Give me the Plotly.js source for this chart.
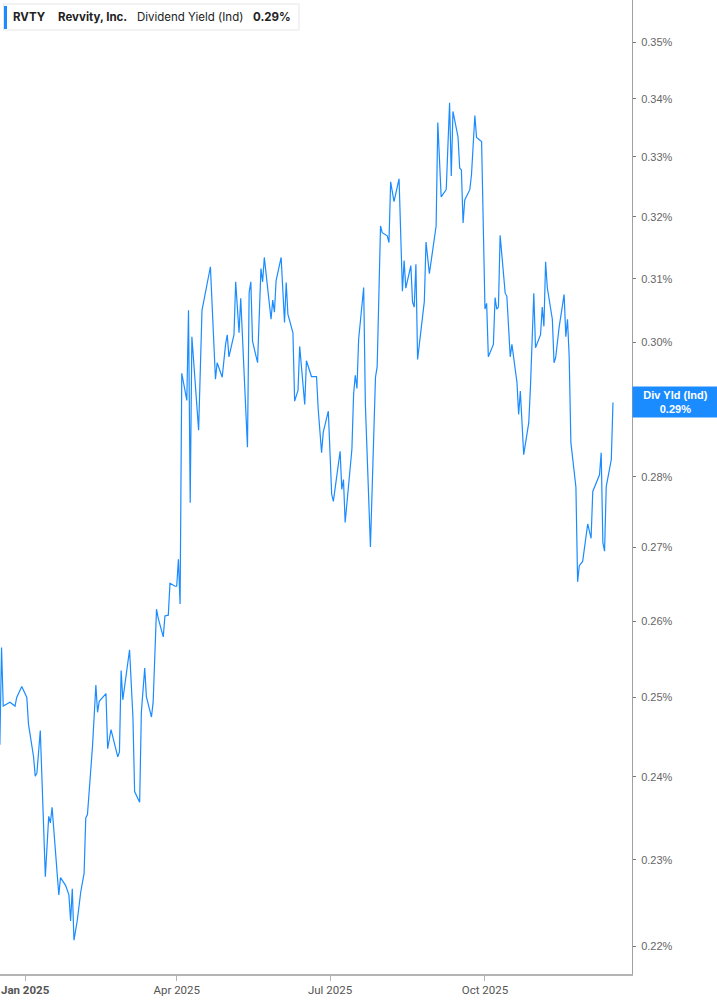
<!DOCTYPE html>
<html>
<head>
<meta charset="utf-8">
<script src="https://cdn.plot.ly/plotly-3.0.1.min.js"></script>
<style>
  html, body { margin: 0; padding: 0; background: #fff; }
  #chart { width: 717px; height: 1005px; }
</style>
</head>
<body>
<div id="chart"></div>
<script>
// Daily dividend yield (Ind) for RVTY, in percent
var dates = [
    '2024-12-17','2024-12-18','2024-12-19','2024-12-23','2024-12-26','2024-12-27','2024-12-30',
    '2025-01-02','2025-01-03','2025-01-06','2025-01-07','2025-01-08','2025-01-10','2025-01-13',
    '2025-01-15','2025-01-16','2025-01-17','2025-01-19','2025-01-21','2025-01-22','2025-01-25',
    '2025-01-27','2025-01-28','2025-01-29','2025-01-30','2025-02-01','2025-02-03','2025-02-05',
    '2025-02-06','2025-02-07','2025-02-10','2025-02-12','2025-02-13','2025-02-14','2025-02-18',
    '2025-02-19','2025-02-21','2025-02-25','2025-02-26','2025-02-27','2025-02-28','2025-03-04',
    '2025-03-05','2025-03-06','2025-03-07','2025-03-10','2025-03-11','2025-03-13','2025-03-14',
    '2025-03-17','2025-03-18','2025-03-20','2025-03-21','2025-03-24','2025-03-25','2025-03-27',
    '2025-03-28','2025-03-31','2025-04-01','2025-04-02','2025-04-03','2025-04-04','2025-04-07',
    '2025-04-08','2025-04-09','2025-04-10','2025-04-14','2025-04-16','2025-04-21','2025-04-24',
    '2025-04-25','2025-04-28','2025-04-30','2025-05-01','2025-05-02','2025-05-05','2025-05-06',
    '2025-05-08','2025-05-09','2025-05-12','2025-05-13','2025-05-14','2025-05-15','2025-05-16',
    '2025-05-19','2025-05-21','2025-05-22','2025-05-23','2025-05-27','2025-05-28','2025-05-29',
    '2025-05-30','2025-06-02','2025-06-04','2025-06-05','2025-06-06','2025-06-09','2025-06-10',
    '2025-06-12','2025-06-13','2025-06-16','2025-06-17','2025-06-20','2025-06-23','2025-06-24',
    '2025-06-26','2025-06-27','2025-06-30','2025-07-02','2025-07-03','2025-07-07','2025-07-08',
    '2025-07-09','2025-07-10','2025-07-14','2025-07-15','2025-07-16','2025-07-17','2025-07-18',
    '2025-07-21','2025-07-22','2025-07-25','2025-07-28','2025-07-29','2025-07-31','2025-08-01',
    '2025-08-04','2025-08-05','2025-08-06','2025-08-08','2025-08-11','2025-08-13','2025-08-14',
    '2025-08-15','2025-08-18','2025-08-19','2025-08-20','2025-08-21','2025-08-22','2025-08-26',
    '2025-08-27','2025-08-29','2025-09-02','2025-09-03','2025-09-05','2025-09-08','2025-09-10',
    '2025-09-11','2025-09-12','2025-09-15','2025-09-16','2025-09-17','2025-09-18','2025-09-19',
    '2025-09-22','2025-09-23','2025-09-25','2025-09-26','2025-09-29','2025-10-01','2025-10-02',
    '2025-10-03','2025-10-06','2025-10-07','2025-10-08','2025-10-09','2025-10-10','2025-10-13',
    '2025-10-14','2025-10-16','2025-10-17','2025-10-20','2025-10-21','2025-10-22','2025-10-24',
    '2025-10-27','2025-10-28','2025-10-30','2025-10-31','2025-11-03','2025-11-04','2025-11-05',
    '2025-11-06','2025-11-07','2025-11-10','2025-11-11','2025-11-12','2025-11-14','2025-11-17',
    '2025-11-18','2025-11-19','2025-11-20','2025-11-21','2025-11-24','2025-11-25','2025-11-26',
    '2025-11-28','2025-12-01','2025-12-03','2025-12-04','2025-12-08','2025-12-09','2025-12-10',
    '2025-12-11','2025-12-12','2025-12-15','2025-12-16'
];
var yields = [
    0.2440, 0.2565, 0.2489, 0.2494, 0.2489, 0.2500, 0.2514,
    0.2500, 0.2466, 0.2425, 0.2401, 0.2405, 0.2458, 0.2280,
    0.2352, 0.2344, 0.2363, 0.2315, 0.2259, 0.2279, 0.2270,
    0.2259, 0.2229, 0.2266, 0.2207, 0.2230, 0.2262, 0.2284,
    0.2350, 0.2354, 0.2438, 0.2516, 0.2481, 0.2495, 0.2505,
    0.2435, 0.2459, 0.2425, 0.2431, 0.2535, 0.2497, 0.2562,
    0.2507, 0.2475, 0.2382, 0.2369, 0.2481, 0.2538, 0.2501,
    0.2475, 0.2494, 0.2616, 0.2604, 0.2579, 0.2607, 0.2608,
    0.2651, 0.2647, 0.2647, 0.2684, 0.2623, 0.2953, 0.2912,
    0.3050, 0.2763, 0.3009, 0.2868, 0.3050, 0.3119, 0.2944,
    0.2969, 0.2947, 0.2997, 0.3012, 0.2978, 0.3012, 0.3095,
    0.3015, 0.3069, 0.2906, 0.2843, 0.3078, 0.3095, 0.3002,
    0.2969, 0.3116, 0.3095, 0.3134, 0.3036, 0.3066, 0.3047,
    0.3097, 0.3134, 0.3031, 0.3094, 0.3044, 0.3015, 0.2911,
    0.2927, 0.2994, 0.2906, 0.2972, 0.2948, 0.2948, 0.2899,
    0.2835, 0.2865, 0.2896, 0.2775, 0.2765, 0.2837, 0.2782,
    0.2796, 0.2735, 0.2840, 0.2921, 0.2950, 0.2930, 0.3005,
    0.3086, 0.2906, 0.2701, 0.2947, 0.2963, 0.3185, 0.3174,
    0.3169, 0.3158, 0.3258, 0.3225, 0.3263, 0.3080, 0.3129,
    0.3085, 0.3121, 0.3063, 0.3055, 0.3123, 0.2974, 0.3064,
    0.3159, 0.3108, 0.3185, 0.3359, 0.3233, 0.3245, 0.3393,
    0.3268, 0.3378, 0.3334, 0.3281, 0.3278, 0.3190, 0.3228,
    0.3245, 0.3270, 0.3371, 0.3333, 0.3326, 0.3052, 0.3061,
    0.2978, 0.2997, 0.3070, 0.3052, 0.3055, 0.3170, 0.3077,
    0.3072, 0.2978, 0.2997, 0.2939, 0.2891, 0.2926, 0.2832,
    0.2879, 0.2932, 0.3077, 0.2992, 0.3012, 0.3055, 0.3025,
    0.3127, 0.3086, 0.3036, 0.2969, 0.2977, 0.3023, 0.3075,
    0.3009, 0.3036, 0.2978, 0.2850, 0.2785, 0.2653, 0.2675,
    0.2681, 0.2733, 0.2713, 0.2779, 0.2803, 0.2835, 0.2707,
    0.2695, 0.2786, 0.2825, 0.2909
];

var xTickVals = ['2025-01-01', '2025-04-01', '2025-07-01', '2025-10-01'];
var xTickText = ['<b>Jan 2025</b>', 'Apr 2025', 'Jul 2025', 'Oct 2025'];
var yTickVals = [0.22, 0.23, 0.24, 0.25, 0.26, 0.27, 0.28, 0.29, 0.30, 0.31, 0.32, 0.33, 0.34, 0.35];
// 0.29% sits under the last-value box, so its label is left blank
var yTickText = ['0.22%', '0.23%', '0.24%', '0.25%', '0.26%', '0.27%', '0.28%', '',
                 '0.30%', '0.31%', '0.32%', '0.33%', '0.34%', '0.35%'];

var ticker = 'RVTY';
var company = 'Revvity, Inc.';
var metric = 'Dividend Yield (Ind)';
var lastLabel = yields[yields.length - 1].toFixed(2) + '%';

var lineColor = '#1a8cff';
var sp = '\u00a0\u00a0\u00a0';

// plot area is 632 x 974 px, so paper coords for the legend box
function px(x) { return x / 632; }
function py(y) { return 1 - y / 974; }

var trace = {
    x: dates,
    y: yields,
    type: 'scatter',
    mode: 'lines',
    line: { color: lineColor, width: 1.2 },
    hoverinfo: 'x+y'
};

var layout = {
    width: 717,
    height: 1005,
    margin: { l: 0, r: 85, t: 0, b: 31 },
    paper_bgcolor: '#fff',
    plot_bgcolor: '#fff',
    showlegend: false,
    xaxis: {
        type: 'date',
        range: ['2024-12-17 02:00', '2025-12-27 07:00'],
        tickvals: xTickVals,
        ticktext: xTickText,
        showgrid: false,
        zeroline: false,
        showline: true,
        linecolor: '#b4b4b4',
        linewidth: 1.5,
        ticks: 'outside',
        ticklen: 5,
        tickcolor: '#b4b4b4',
        tickfont: { family: 'Roboto, sans-serif', size: 11.5, color: '#555' }
    },
    yaxis: {
        type: 'log',
        side: 'right',
        range: [Math.log10(0.2169), Math.log10(0.3577)],
        tickvals: yTickVals,
        ticktext: yTickText,
        showgrid: false,
        zeroline: false,
        showline: true,
        linecolor: '#a0a0a0',
        linewidth: 1,
        ticks: 'outside',
        ticklen: 3,
        tickcolor: '#777',
        ticklabelstandoff: 3,
        tickfont: { family: 'Liberation Sans, Arial, sans-serif', size: 11, color: '#666' }
    },
    shapes: [
        // legend box
        { type: 'rect', xref: 'paper', yref: 'paper', x0: px(3.5), x1: px(299), y0: py(30), y1: py(4),
          fillcolor: '#fff', line: { color: '#e6e6e6', width: 1 }, layer: 'above' },
        // blue marker bar on the left of the legend box
        { type: 'rect', xref: 'paper', yref: 'paper', x0: px(4), x1: px(7), y0: py(29), y1: py(6),
          fillcolor: lineColor, line: { width: 0 }, layer: 'above' }
    ],
    annotations: [
        {
            xref: 'paper', yref: 'paper', x: px(11), y: py(17),
            xanchor: 'left', yanchor: 'middle', showarrow: false, align: 'left',
            text: '<b>' + ticker + '</b>' + sp + '\u00a0<b>' + company + '</b>' + sp + metric + sp + '<b>' + lastLabel + '</b>',
            font: { family: 'Inter, sans-serif', size: 11.5, color: '#222' }
        },
        {
            xref: 'paper', yref: 'y', x: 1, y: Math.log10(yields[yields.length - 1]),
            xanchor: 'left', yanchor: 'middle', showarrow: false, align: 'center',
            text: '<b>Div Yld (Ind)</b><br><b>' + lastLabel + '</b>',
            font: { family: 'Liberation Sans, Arial, sans-serif', size: 11, color: '#fff' },
            bgcolor: lineColor, width: 83, height: 28, borderpad: 1
        }
    ]
};

Plotly.newPlot('chart', [trace], layout, { displayModeBar: false, staticPlot: true });
</script>
</body>
</html>
